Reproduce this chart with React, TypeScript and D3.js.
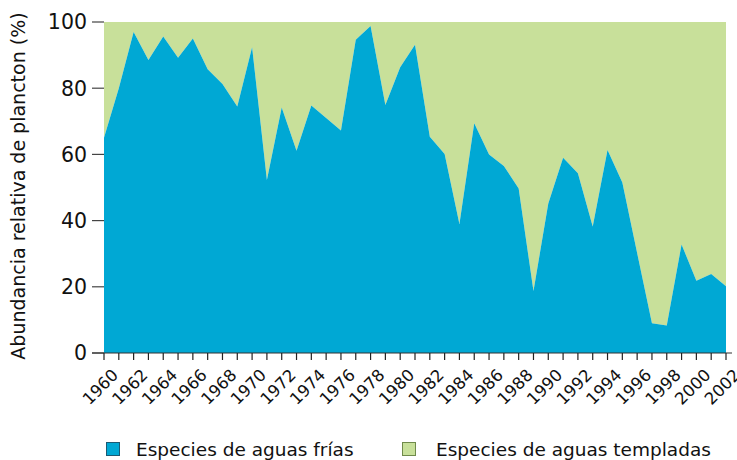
import { useEffect } from "react";
import * as d3 from "d3";

const years = [
  1960, 1961, 1962, 1963, 1964, 1965, 1966, 1967, 1968, 1969, 1970, 1971, 1972, 1973, 1974,
  1975, 1976, 1977, 1978, 1979, 1980, 1981, 1982, 1983, 1984, 1985, 1986, 1987, 1988, 1989,
  1990, 1991, 1992, 1993, 1994, 1995, 1996, 1997, 1998, 1999, 2000, 2001, 2002,
];

// % of cold-water species; warm-water species fill the rest up to 100
const coldPct = [
  65, 80, 97, 88.5, 95.6, 89.2, 95, 85.7, 81.3, 74.5, 92.4, 52.3, 74.2, 61.1, 74.8,
  71, 67.2, 94.6, 98.8, 74.9, 86.3, 93.1, 65.3, 60.1, 39, 69.4, 60, 56.5, 49.7, 18.7,
  45.2, 59, 54.3, 38.2, 61.3, 51.5, 30.2, 9, 8.3, 32.8, 21.8, 23.9, 20.2,
];

const yTicks = [0, 20, 40, 60, 80, 100];
const seriesNames = ["Especies de aguas frías", "Especies de aguas templadas"];

const COLD = "#00a8d4";
const WARM = "#c8e09a";
const FONT = "'DejaVu Sans', Verdana, sans-serif";

export default function App() {
  useEffect(() => {
    document.body.style.margin = "0";
  }, []);

  const width = 737;
  const height = 460;
  const margin = { top: 22, right: 11, bottom: 107, left: 104 };

  const x = d3
    .scaleLinear()
    .domain([years[0], years[years.length - 1]])
    .range([margin.left, width - margin.right]);
  const y = d3
    .scaleLinear()
    .domain([0, 100])
    .range([height - margin.bottom, margin.top]);

  const data = years.map((yr, i) => ({ yr, cold: coldPct[i] }));

  const coldArea = d3
    .area<{ yr: number; cold: number }>()
    .x((d) => x(d.yr))
    .y0(y(0))
    .y1((d) => y(d.cold));
  const warmArea = d3
    .area<{ yr: number; cold: number }>()
    .x((d) => x(d.yr))
    .y0((d) => y(d.cold))
    .y1(y(100));

  const baseY = y(0);
  const legendBox = [106, 402];
  const legendText = [136, 436];

  return (
    <svg width={width} height={height} style={{ display: "block", fontFamily: FONT }}>
      <path d={warmArea(data) ?? ""} fill={WARM} />
      <path d={coldArea(data) ?? ""} fill={COLD} />

      {/* y axis ticks + labels */}
      {yTicks.map((t) => (
        <g key={t}>
          <line x1={margin.left - 12} x2={margin.left} y1={y(t)} y2={y(t)} stroke="#444" strokeWidth={1.2} />
          <text x={margin.left - 17} y={y(t)} dy="0.36em" textAnchor="end" fontSize={20.5} fill="#111">
            {t}
          </text>
        </g>
      ))}

      {/* x axis */}
      <line x1={margin.left - 12} x2={width - 5} y1={baseY} y2={baseY} stroke="#333" strokeWidth={1.2} />
      {years.map((yr) => (
        <line key={yr} x1={x(yr)} x2={x(yr)} y1={baseY} y2={baseY + 7} stroke="#222" strokeWidth={1.2} />
      ))}
      {years
        .filter((yr) => yr % 2 === 0)
        .map((yr) => (
          <text
            key={yr}
            transform={`translate(${x(yr) + 7},${baseY + 15}) rotate(-45)`}
            textAnchor="end"
            dy="0.7em"
            fontSize={16.5}
            fill="#111"
          >
            {yr}
          </text>
        ))}

      {/* y title */}
      <text
        transform={`translate(25,186) rotate(-90)`}
        textAnchor="middle"
        fontSize={19}
        fill="#111"
      >
        Abundancia relativa de plancton (%)
      </text>

      {/* legend */}
      {seriesNames.map((name, i) => (
        <g key={name}>
          <rect
            x={legendBox[i] + 0.5}
            y={442.5}
            width={13}
            height={13}
            fill={i === 0 ? COLD : WARM}
            stroke={i === 0 ? "#1c5a73" : "#6f8a4a"}
            strokeWidth={1}
          />
          <text x={legendText[i]} y={456} fontSize={18.5} fill="#111">
            {name}
          </text>
        </g>
      ))}
    </svg>
  );
}
